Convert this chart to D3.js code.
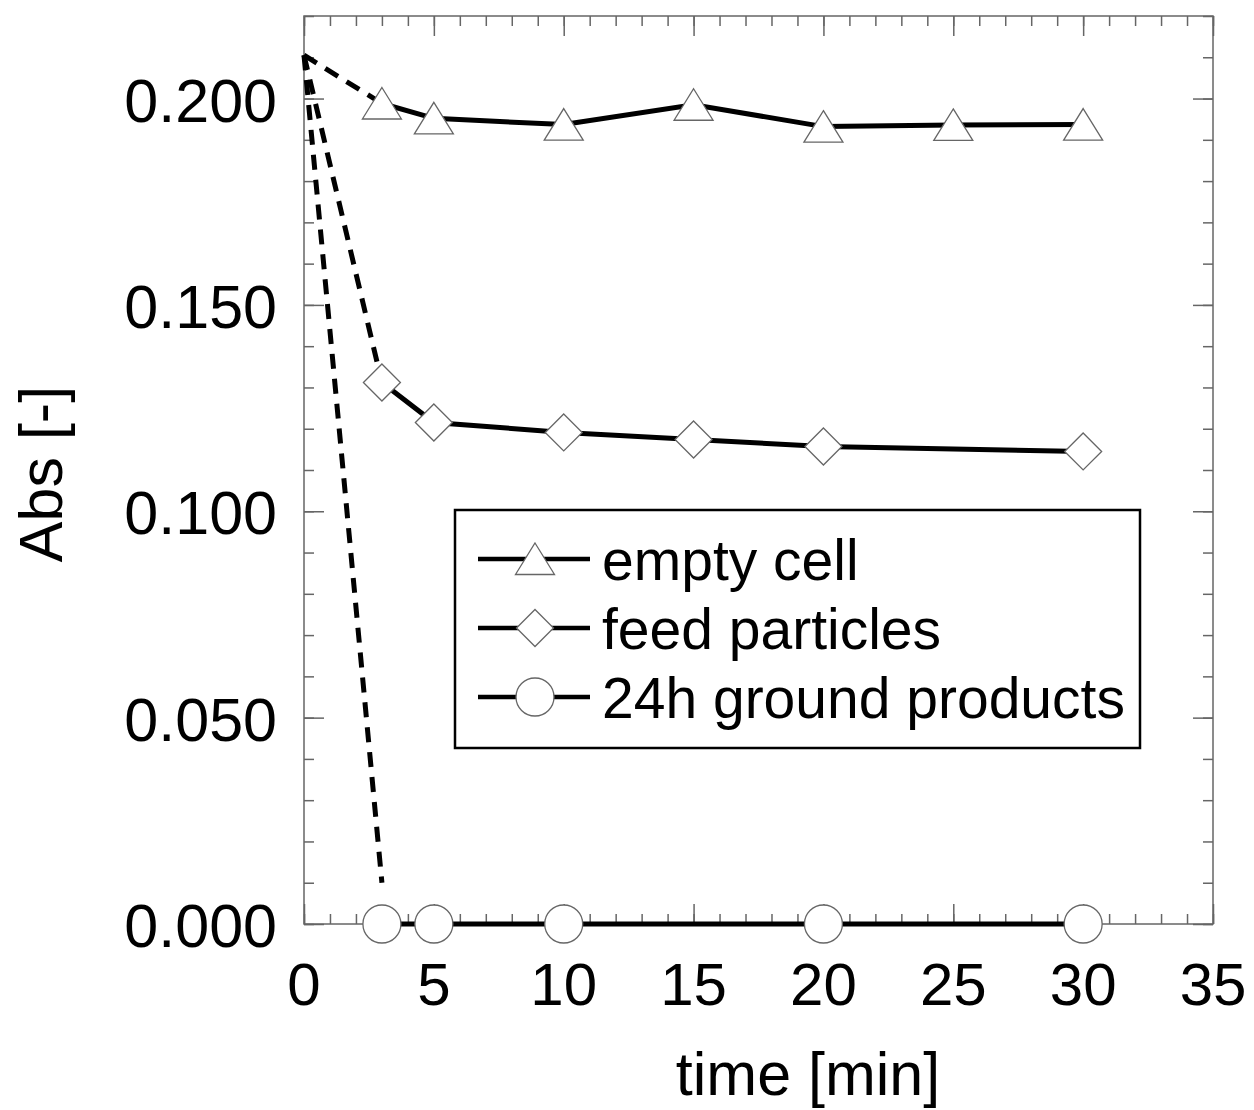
<!DOCTYPE html>
<html><head><meta charset="utf-8">
<script src="https://cdn.jsdelivr.net/npm/d3@7"></script>
<style>body{margin:0;background:#fff} text{font-family:"Liberation Sans",Arial,sans-serif;fill:#000}</style>
</head><body>
<svg id="c" width="1254" height="1110"></svg>
<script>
// ---- data ----
const seriesNames = ["empty cell", "feed particles", "24h ground products"];
const timeEmpty = [3, 5, 10, 15, 20, 25, 30];
const absEmpty = [0.1988, 0.1952, 0.1937, 0.1985, 0.1932, 0.1936, 0.1937];
const timeFeed = [3, 5, 10, 15, 20, 30];
const absFeed = [0.1312, 0.1215, 0.1191, 0.1174, 0.1157, 0.1145];
const timeGround = [3, 5, 10, 20, 30];
const absGround = [0, 0, 0, 0, 0];
const dashStartTime = 0, dashStartAbs = 0.2105;
const dashEndTime = [3, 3, 3];
const dashEndAbs = [0.1988, 0.1312, 0.010];
const xTicks = [0, 5, 10, 15, 20, 25, 30, 35];
const yTicks = [0, 0.05, 0.10, 0.15, 0.20];
const xMinor = d3.range(0, 36, 1);
const yMinor = d3.range(0, 0.2201, 0.01);

// ---- layout ----
const L = 304, T = 16, W = 909, H = 908;
const svg = d3.select("#c");
const x = d3.scaleLinear().domain([0, 35]).range([L, L + W]);
const y = d3.scaleLinear().domain([0, 0.22]).range([T + H, T]);

const g = svg.append("g");
const frameCol = "#666";

function styleAxis(sel){ sel.select(".domain").remove(); sel.selectAll("line").attr("stroke", frameCol).attr("stroke-width", 1.5); }
g.append("g").attr("transform", `translate(0,${T+H})`).call(d3.axisBottom(x).tickValues(xMinor).tickSize(-10).tickFormat("")).call(styleAxis);
g.append("g").attr("transform", `translate(0,${T})`).call(d3.axisTop(x).tickValues(xMinor).tickSize(-10).tickFormat("")).call(styleAxis);
g.append("g").attr("transform", `translate(0,${T+H})`).call(d3.axisBottom(x).tickValues(xTicks).tickSize(-20).tickFormat("")).call(styleAxis);
g.append("g").attr("transform", `translate(0,${T})`).call(d3.axisTop(x).tickValues(xTicks).tickSize(-20).tickFormat("")).call(styleAxis);
g.append("g").attr("transform", `translate(${L},0)`).call(d3.axisLeft(y).tickValues(yMinor).tickSize(-10).tickFormat("")).call(styleAxis);
g.append("g").attr("transform", `translate(${L+W},0)`).call(d3.axisRight(y).tickValues(yMinor).tickSize(-10).tickFormat("")).call(styleAxis);
g.append("g").attr("transform", `translate(${L},0)`).call(d3.axisLeft(y).tickValues(yTicks).tickSize(-20).tickFormat("")).call(styleAxis);
g.append("g").attr("transform", `translate(${L+W},0)`).call(d3.axisRight(y).tickValues(yTicks).tickSize(-20).tickFormat("")).call(styleAxis);

g.append("rect").attr("x", L).attr("y", T).attr("width", W).attr("height", H)
  .attr("fill", "none").attr("stroke", frameCol).attr("stroke-width", 1.5);

// tick labels
g.selectAll(".xl").data(xTicks).enter().append("text")
  .attr("x", d => x(d)).attr("y", 1005).attr("text-anchor", "middle")
  .attr("font-size", 60).text(d => d);
g.selectAll(".yl").data(yTicks).enter().append("text")
  .attr("x", 277).attr("y", d => y(d) + 23).attr("text-anchor", "end")
  .attr("font-size", 61).text(d => d3.format(".3f")(d));

// axis titles
svg.append("text").attr("x", 808).attr("y", 1095).attr("text-anchor", "middle")
  .attr("font-size", 61).text("time [min]");
svg.append("text").attr("transform", "translate(62,474) rotate(-90)").attr("text-anchor", "middle")
  .attr("font-size", 61).text("Abs [-]");

// dashed initial lines
dashEndTime.forEach((t, i) => {
  g.append("path").attr("d", d3.line()([[x(dashStartTime), y(dashStartAbs)], [x(t), y(dashEndAbs[i])]]))
    .attr("stroke", "#000").attr("stroke-width", 5).attr("stroke-dasharray", "15,10").attr("fill", "none");
});

// series
const series = [
  {t: timeEmpty, v: absEmpty, shape: "tri"},
  {t: timeFeed, v: absFeed, shape: "dia"},
  {t: timeGround, v: absGround, shape: "cir"}
];
const line = d3.line();
function marker(sel, shape, cx, cy){
  let m;
  if (shape === "tri") m = sel.append("path").attr("d", `M${cx},${cy-16} L${cx+19.5},${cy+15.5} L${cx-19.5},${cy+15.5} Z`);
  else if (shape === "dia") m = sel.append("path").attr("d", `M${cx},${cy-18.5} L${cx+18.5},${cy} L${cx},${cy+18.5} L${cx-18.5},${cy} Z`);
  else m = sel.append("circle").attr("cx", cx).attr("cy", cy).attr("r", 19);
  m.attr("fill", "#fff").attr("stroke", "#666").attr("stroke-width", 1.3);
}
series.forEach(s => {
  g.append("path").attr("d", line(s.t.map((t, i) => [x(t), y(s.v[i])])))
    .attr("stroke", "#000").attr("stroke-width", 5).attr("fill", "none");
});
series.forEach(s => {
  s.t.forEach((t, i) => marker(g, s.shape, x(t), y(s.v[i])));
});

// legend
const lg = svg.append("g");
lg.append("rect").attr("x", 455).attr("y", 510).attr("width", 685).attr("height", 238)
  .attr("fill", "#fff").attr("stroke", "#000").attr("stroke-width", 2.5);
const rowY = [559, 628, 697];
series.forEach((s, i) => {
  lg.append("line").attr("x1", 478).attr("x2", 590).attr("y1", rowY[i]).attr("y2", rowY[i])
    .attr("stroke", "#000").attr("stroke-width", 4.5);
  marker(lg, s.shape, 535, rowY[i]);
  lg.append("text").attr("x", 602).attr("y", rowY[i] + 21).attr("font-size", 57).text(seriesNames[i]);
});
</script>
</body></html>
